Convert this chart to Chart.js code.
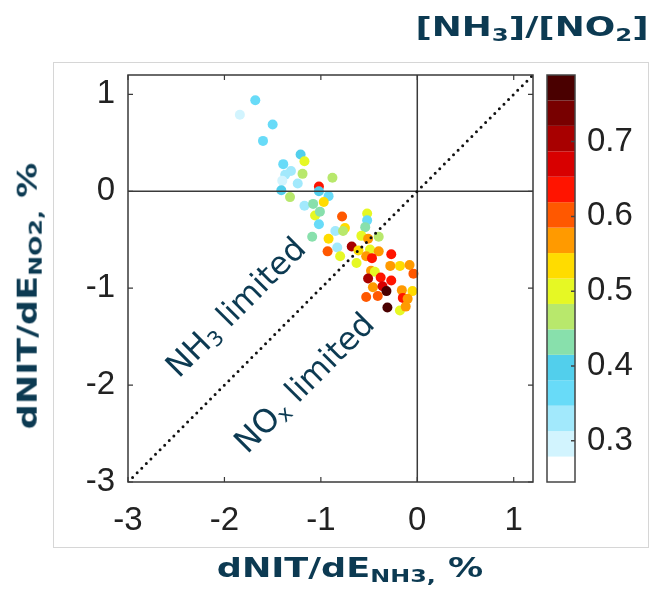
<!DOCTYPE html>
<html>
<head>
<meta charset="utf-8">
<script src="https://cdn.jsdelivr.net/npm/chart.js@4.4.1/dist/chart.umd.min.js"></script>
<style>
  body { margin: 0; background: #fff; }
  #wrap { position: relative; width: 655px; height: 589px; overflow: hidden; }
  #frame { position: absolute; left: 53px; top: 62px; width: 594px; height: 484px; border: 1px solid #d6d6d6; }
  #chart { position: absolute; left: 0; top: 0; }
  .ttl { position: absolute; font-family: "DejaVu Sans", sans-serif; font-weight: bold; color: #0c3a52;
         white-space: nowrap; font-size: 26px; line-height: 1; }
  .ttl sub { font-size: 0.68em; vertical-align: -0.28em; }
  #xTitle { left: 350px; top: 570px; transform: translate(-50%, -50%) scaleX(1.35); }
  #yTitle { left: 30px; top: 296px; transform: translate(-50%, -50%) rotate(-90deg) scaleX(1.35); }
  #cTitle { left: 532px; top: 29px; transform: translate(-50%, -50%) scaleX(1.38); }
</style>
</head>
<body>
<div id="wrap">
  <div id="frame"></div>
  <canvas id="chart" width="655" height="589"></canvas>
  <div class="ttl" id="xTitle">dNIT/dE<sub>NH3,</sub> %</div>
  <div class="ttl" id="yTitle">dNIT/dE<sub>NO2,</sub> %</div>
  <div class="ttl" id="cTitle">[NH<sub>3</sub>]/[NO<sub>2</sub>]</div>
</div>
<script>
// sensitivity of nitrate to NH3 and NO2 emissions (%), one entry per site
const nh3Sens = [-1.68, -1.84, -1.50, -1.60, -1.21, -1.17, -1.39, -1.31, -1.37, -1.19,
                 -0.88, -1.40, -1.24, -1.02, -1.41, -1.02, -0.92, -1.32, -1.17, -1.08,
                 -0.97, -1.06, -1.01, -0.78, -0.52, -0.52, -0.54, -1.02, -0.85, -0.75,
                 -0.77, -1.09, -0.92, -0.58, -0.51, -0.40, -0.68, -0.83, -0.93, -0.61,
                 -0.80, -0.49, -0.40, -0.53, -0.47, -0.27, -0.63, -0.28, -0.18, -0.08,
                 -0.04, -0.48, -0.44, -0.51, -0.38, -0.27, -0.46, -0.36, -0.32, -0.53,
                 -0.41, -0.16, -0.05, -0.15, -0.10, -0.31, -0.18, -0.12];
const no2Sens = [0.94, 0.79, 0.69, 0.52, 0.38, 0.31, 0.28, 0.21, 0.17, 0.18,
                 0.14, 0.11, 0.08, 0.05, 0.01, 0.00, -0.05, -0.06, -0.15, -0.13,
                 -0.11, -0.25, -0.21, -0.26, -0.23, -0.30, -0.37, -0.34, -0.41, -0.38,
                 -0.41, -0.47, -0.49, -0.46, -0.49, -0.47, -0.57, -0.58, -0.62, -0.61,
                 -0.67, -0.60, -0.62, -0.67, -0.69, -0.65, -0.74, -0.77, -0.77, -0.76,
                 -0.85, -0.82, -0.83, -0.90, -0.89, -0.92, -0.99, -0.98, -1.03, -1.09,
                 -1.08, -1.02, -1.03, -1.10, -1.11, -1.20, -1.23, -1.19];
// [NH3]/[NO2] ratio used for the colour of each point
const ratio = [0.36, 0.30, 0.36, 0.36, 0.40, 0.50, 0.36, 0.33, 0.33, 0.47,
               0.47, 0.30, 0.33, 0.64, 0.40, 0.40, 0.36, 0.47, 0.33, 0.43,
               0.53, 0.50, 0.43, 0.60, 0.50, 0.36, 0.43, 0.36, 0.33, 0.53,
               0.47, 0.43, 0.53, 0.50, 0.57, 0.47, 0.70, 0.33, 0.60, 0.53,
               0.50, 0.50, 0.57, 0.57, 0.64, 0.64, 0.50, 0.57, 0.53, 0.57,
               0.60, 0.57, 0.50, 0.70, 0.64, 0.64, 0.57, 0.67, 0.77, 0.60,
               0.60, 0.57, 0.53, 0.64, 0.57, 0.77, 0.50, 0.57];

const axisMin = -3;
const axisMax = 1.2;
const xTicks = [-3, -2, -1, 0, 1];
const yTicks = [-3, -2, -1, 0, 1];
const ratioTicks = [0.3, 0.4, 0.5, 0.6, 0.7];
const ratioMin = 0.245;
const ratioStep = 0.034;
const bandColors = ['#ffffff', '#d2f4fe', '#a2e9fc', '#68dbf8', '#52cfec', '#88e0ac',
                    '#b8e86c', '#e6f824', '#ffdc00', '#ff9a00', '#ff5800', '#ff1400',
                    '#d80000', '#a80000', '#780000', '#4a0000'];
const ratioMax = ratioMin + bandColors.length * ratioStep;

function bandColor(v) {
  let i = Math.floor((v - ratioMin) / ratioStep);
  i = Math.max(0, Math.min(bandColors.length - 1, i));
  return bandColors[i];
}

const points = nh3Sens.map((x, i) => ({ x: x, y: no2Sens[i] }));
const textColor = '#0c3a52';

// draws the axes box, inward ticks, the colour bar and the regime labels
const decorations = {
  id: 'decorations',
  afterDatasetsDraw(chart) {
    const { ctx, chartArea: a, scales } = chart;
    ctx.save();
    ctx.strokeStyle = '#3a3a3a';
    ctx.lineWidth = 1.5;
    ctx.strokeRect(a.left, a.top, a.right - a.left, a.bottom - a.top);

    ctx.lineWidth = 1.2;
    ctx.beginPath();
    xTicks.forEach(v => {
      const px = scales.x.getPixelForValue(v);
      ctx.moveTo(px, a.bottom); ctx.lineTo(px, a.bottom - 5);
      ctx.moveTo(px, a.top); ctx.lineTo(px, a.top + 5);
    });
    yTicks.forEach(v => {
      const py = scales.y.getPixelForValue(v);
      ctx.moveTo(a.left, py); ctx.lineTo(a.left + 5, py);
      ctx.moveTo(a.right, py); ctx.lineTo(a.right - 5, py);
    });
    ctx.stroke();

    // colour bar
    const cb = scales.cb;
    const barLeft = a.right + 14;
    const barW = 28;
    bandColors.forEach((c, i) => {
      const y1 = cb.getPixelForValue(ratioMin + i * ratioStep);
      const y2 = cb.getPixelForValue(ratioMin + (i + 1) * ratioStep);
      ctx.fillStyle = c;
      ctx.fillRect(barLeft, y2, barW, y1 - y2);
    });
    ctx.strokeStyle = '#444';
    ctx.lineWidth = 1.5;
    ctx.strokeRect(barLeft, cb.top, barW, cb.bottom - cb.top);
    ctx.beginPath();
    ratioTicks.forEach(v => {
      const py = cb.getPixelForValue(v);
      ctx.moveTo(barLeft + barW, py); ctx.lineTo(barLeft + barW - 4, py);
    });
    ctx.stroke();

    drawRegime(ctx, scales, -1.89, -1.19, [['NH', false], ['3', true], [' limited', false]]);
    drawRegime(ctx, scales, -1.18, -1.97, [['NO', false], ['x', true], [' limited', false]]);
    ctx.restore();
  }
};

function drawRegime(ctx, scales, xv, yv, parts) {
  const size = 32;
  const big = size + 'px "DejaVu Sans"';
  const small = Math.round(size * 0.66) + 'px "DejaVu Sans"';
  let total = 0;
  parts.forEach(p => { ctx.font = p[1] ? small : big; total += ctx.measureText(p[0]).width; });
  ctx.save();
  ctx.translate(scales.x.getPixelForValue(xv), scales.y.getPixelForValue(yv));
  ctx.rotate(-Math.PI / 4);
  ctx.fillStyle = textColor;
  ctx.textBaseline = 'alphabetic';
  let x = -total / 2;
  parts.forEach(p => {
    ctx.font = p[1] ? small : big;
    ctx.fillText(p[0], x, p[1] ? size * 0.5 : size * 0.36);
    x += ctx.measureText(p[0]).width;
  });
  ctx.restore();
}

const tickFont = { family: '"Liberation Sans", Arial, sans-serif', size: 33 };

new Chart(document.getElementById('chart'), {
  type: 'scatter',
  data: {
    datasets: [
      {
        label: 'one to one',
        data: [{ x: axisMin, y: axisMin }, { x: axisMax, y: axisMax }],
        showLine: true,
        borderColor: '#111',
        borderWidth: 3,
        borderDash: [0, 6.5],
        borderCapStyle: 'round',
        pointRadius: 0,
        order: 0
      },
      {
        label: 'x zero',
        data: [{ x: 0, y: axisMin }, { x: 0, y: axisMax }],
        showLine: true,
        borderColor: '#3a3a3a',
        borderWidth: 1.5,
        pointRadius: 0,
        order: 0
      },
      {
        label: 'y zero',
        data: [{ x: axisMin, y: 0 }, { x: axisMax, y: 0 }],
        showLine: true,
        borderColor: '#3a3a3a',
        borderWidth: 1.5,
        pointRadius: 0,
        order: 0
      },
      {
        label: 'sites',
        data: points,
        backgroundColor: ctx => bandColor(ratio[ctx.dataIndex]),
        borderWidth: 0,
        pointRadius: 5,
        order: 1
      }
    ]
  },
  options: {
    responsive: false,
    animation: false,
    events: [],
    layout: { padding: { top: 75, left: 0, right: 0, bottom: 0 } },
    plugins: { legend: { display: false }, tooltip: { enabled: false } },
    scales: {
      x: {
        type: 'linear', min: axisMin, max: axisMax,
        afterBuildTicks: s => { s.ticks = xTicks.map(v => ({ value: v })); },
        afterFit: s => { s.height = 107; },
        grid: { display: false, drawTicks: false },
        border: { display: false },
        ticks: { font: tickFont, color: '#222', padding: 19 }
      },
      y: {
        type: 'linear', min: axisMin, max: axisMax,
        afterBuildTicks: s => { s.ticks = yTicks.map(v => ({ value: v })); },
        afterFit: s => { s.width = 128; },
        grid: { display: false, drawTicks: false },
        border: { display: false },
        ticks: { font: tickFont, color: '#222', padding: 13 }
      },
      cb: {
        type: 'linear', position: 'right', min: ratioMin, max: ratioMax,
        afterBuildTicks: s => { s.ticks = ratioTicks.map(v => ({ value: v })); },
        afterFit: s => { s.width = 122; },
        grid: { display: false, drawTicks: false },
        border: { display: false },
        ticks: { font: tickFont, color: '#222', padding: 54, callback: v => v.toFixed(1) }
      }
    }
  },
  plugins: [decorations]
});
</script>
</body>
</html>
